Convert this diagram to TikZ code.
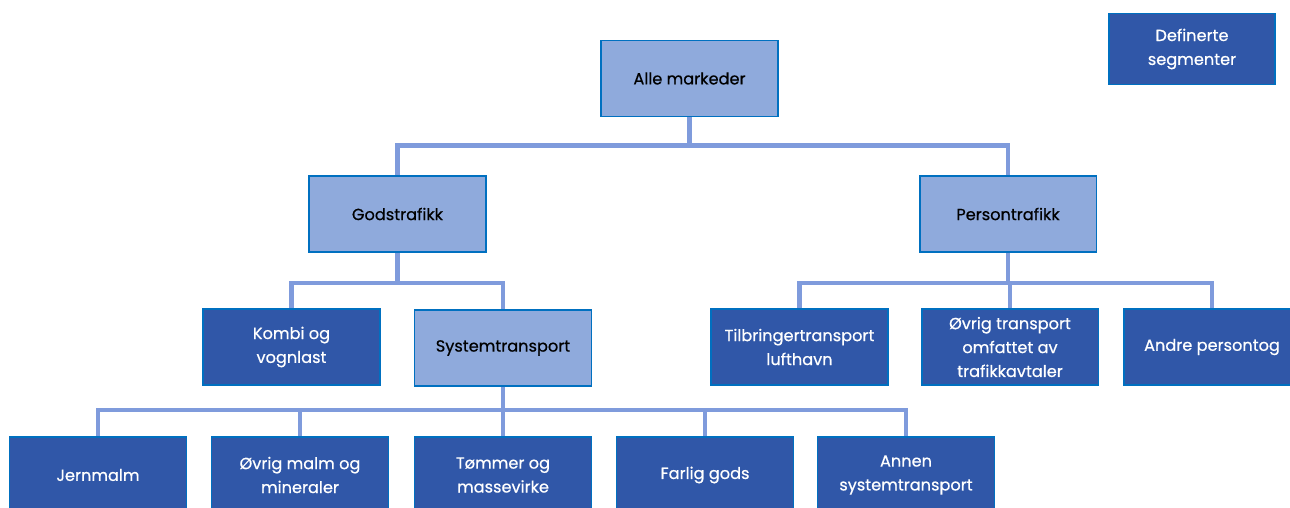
\documentclass[tikz,border=0pt]{standalone}
\usepackage{fontspec}
\setmainfont{Poppins}[FakeBold=0.6]
\definecolor{lysblaa}{RGB}{143,170,220}
\definecolor{morkblaa}{RGB}{48,87,168}
\definecolor{kant}{RGB}{0,112,192}
\definecolor{linje}{RGB}{127,155,220}
\begin{document}
\begin{tikzpicture}[x = 0.02cm, y = -0.02cm,
	boks/.style = {draw = kant, line width = 1.1pt, inner sep = 0pt, align = center,
		minimum width = 3.54cm, minimum height = 1.52cm,
		font = \fontsize{9.2}{13.6}\selectfont},
	hoved/.style = {boks, fill = lysblaa, text = black},
	segment/.style = {boks, fill = morkblaa, text = white},
	gren/.style = {linje, line width = 2.8pt}]
				%	canvas
				\useasboundingbox (0, 0) rectangle (1290, 507);
				
				%	level 1
				\node[hoved] (alle) at (689.5, 78.5) {Alle markeder};
				\node[segment, minimum width = 3.32cm, minimum height = 1.42cm] (def) at (1192, 49) {Definerte\\segmenter};
				
				%	level 2
				\node[hoved] (gods) at (397.5, 214) {Godstrafikk};
				\node[hoved] (person) at (1008, 214) {Persontrafikk};
				
				%	level 3
				\node[segment] (kombi) at (291.5, 347) {Kombi og\\vognlast};
				\node[hoved] (system) at (503, 348) {Systemtransport};
				\node[segment] (tilbr) at (799.5, 347) {Tilbringertransport\\lufthavn};
				\node[segment] (ovrigt) at (1010, 347) {Øvrig transport\\omfattet av\\trafikkavtaler};
				\node[segment] (andre) at (1212, 347) {Andre persontog};
				
				%	level 4
				\node[segment] (jern) at (98, 475) {Jernmalm};
				\node[segment] (malm) at (300, 475) {Øvrig malm og\\mineraler};
				\node[segment] (tommer) at (503, 475) {Tømmer og\\massevirke};
				\node[segment] (farlig) at (705, 475) {Farlig gods};
				\node[segment] (annen) at (906, 475) {Annen\\systemtransport};
				
				%	branches
				\foreach \b in {gods, person}
					\draw[gren] (alle.south) -- ++(0, 28) -| (\b.north);
				\foreach \b in {kombi, system}
					\draw[gren] (gods.south) -- ++(0, 30) -| (\b.north);
				\foreach \b in {tilbr, ovrigt, andre}
					\draw[gren] (person.south) -- ++(0, 30) -| (\b.north);
				\foreach \b in {jern, malm, tommer, farlig, annen}
					\draw[gren] (system.south) -- ++(0, 23) -| (\b.north);
\end{tikzpicture}
\end{document}
